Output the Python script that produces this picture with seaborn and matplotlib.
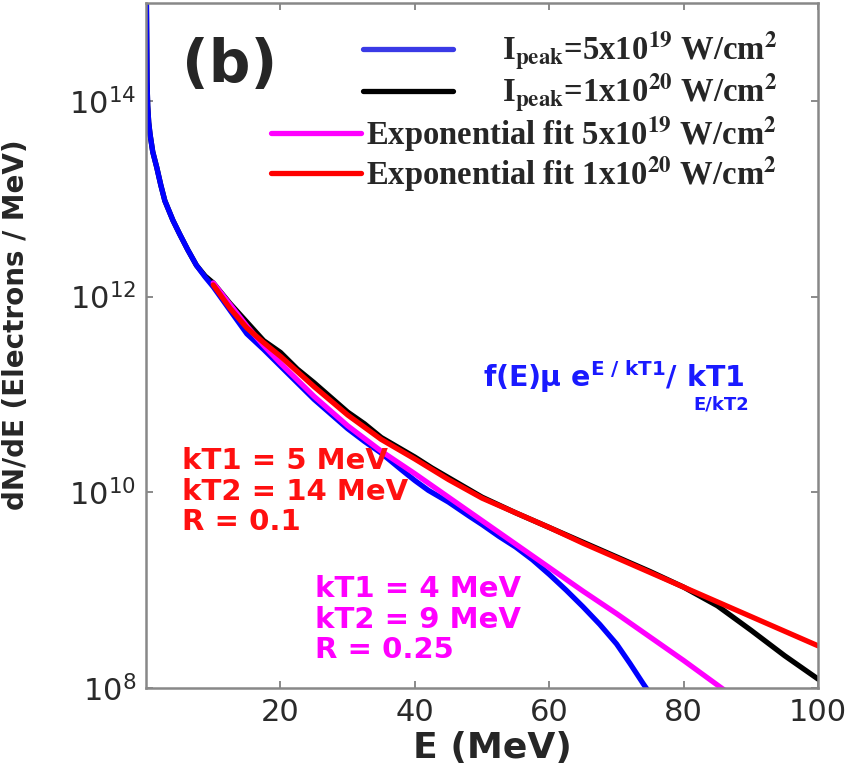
import numpy as np
import pandas as pd
import matplotlib
matplotlib.use("Agg")
import matplotlib.pyplot as plt
import seaborn as sns
from matplotlib.lines import Line2D
from matplotlib.font_manager import FontProperties


# ── Data (values are log10 of dN/dE) ───────────────────────────────────────────

blue_E = [0.05, 0.15, 0.25, 0.4, 0.6, 1.0, 1.6, 2.2, 2.8, 4.0, 5.0, 6.2, 7.5,
          8.8, 10, 12.5, 15, 17.5, 20, 22.5, 25, 27.5, 30, 32.5, 35, 38, 40,
          42, 45, 48, 50, 52.5, 55, 57.5, 60, 62.5, 65, 67.5, 70, 72, 74,
          74.6]
blue_log = [15.1, 14.2, 13.95, 13.78, 13.66, 13.48, 13.32, 13.14, 12.98, 12.78,
            12.64, 12.48, 12.32, 12.20, 12.10, 11.86, 11.62, 11.46, 11.29,
            11.12, 10.95, 10.80, 10.65, 10.52, 10.40, 10.23, 10.12, 10.02,
            9.90, 9.76, 9.67, 9.55, 9.44, 9.31, 9.16, 9.00, 8.83, 8.65, 8.45,
            8.25, 8.04, 7.98]

black_E = [0.05, 0.15, 0.25, 0.4, 0.6, 1.0, 1.6, 2.2, 2.8, 4.0, 5.0, 6.2, 7.5,
           8.8, 10, 12.5, 15, 17.5, 20, 22.5, 25, 27.5, 30, 32.5, 35, 37.5,
           40, 42.5, 45, 47.5, 50, 55, 60, 65, 70, 75, 80, 85, 90, 95, 100]
black_log = [15.1, 14.2, 13.95, 13.78, 13.66, 13.48, 13.32, 13.14, 12.98,
             12.78, 12.64, 12.48, 12.32, 12.21, 12.14, 11.93, 11.74, 11.55,
             11.43, 11.26, 11.12, 10.97, 10.82, 10.70, 10.56, 10.46, 10.36,
             10.25, 10.15, 10.05, 9.95, 9.79, 9.64, 9.49, 9.34, 9.19, 9.03,
             8.84, 8.59, 8.33, 8.09]

magenta_E = [10, 12.5, 15, 17.5, 20, 25, 30, 35, 40, 45, 50, 55, 60, 65, 70,
             75, 80, 85, 86]
magenta_log = [12.14, 11.92, 11.70, 11.50, 11.32, 10.98, 10.68, 10.42, 10.19,
               9.95, 9.71, 9.47, 9.23, 8.99, 8.76, 8.52, 8.28, 8.03, 7.98]

red_E = [10, 12.5, 15, 17.5, 20, 25, 30, 35, 40, 45, 50, 55, 60, 65, 70, 75,
         80, 85, 90, 95, 100]
red_log = [12.12, 11.88, 11.68, 11.53, 11.39, 11.08, 10.79, 10.54, 10.34,
           10.13, 9.94, 9.79, 9.64, 9.48, 9.33, 9.18, 9.03, 8.88, 8.73, 8.58,
           8.43]

legend_labels = [
    r"I$_{\mathbf{peak}}$=5x10$^{\mathbf{19}}$ W/cm$^{\mathbf{2}}$",
    r"I$_{\mathbf{peak}}$=1x10$^{\mathbf{20}}$ W/cm$^{\mathbf{2}}$",
    r"Exponential fit 5x10$^{\mathbf{19}}$ W/cm$^{\mathbf{2}}$",
    r"Exponential fit 1x10$^{\mathbf{20}}$ W/cm$^{\mathbf{2}}$",
]
x_ticks = [20, 40, 60, 80, 100]
y_ticks = [1e8, 1e10, 1e12, 1e14]


# ── Plot ───────────────────────────────────────────────────────────────────────

sns.set_style("ticks")
fig, ax = plt.subplots(figsize=(8.64, 7.80), dpi=100)
fig.subplots_adjust(left=0.169, right=0.947, bottom=0.118, top=0.996)

series = [
    ("black", black_E, black_log),
    ("#0000ff", blue_E, blue_log),
    ("#ff00ff", magenta_E, magenta_log),
    ("#ff0000", red_E, red_log),
]
for color, E, lg in series:
    df = pd.DataFrame({"E": E, "dNdE": 10.0 ** np.array(lg)})
    sns.lineplot(data=df, x="E", y="dNdE", color=color, linewidth=3.8,
                 ax=ax, sort=False, estimator=None)

ax.set_yscale("log")
ax.set_xlim(0, 100)
ax.set_ylim(1e8, 1e15)
ax.set_xticks(x_ticks)
ax.set_yticks(y_ticks)
ax.minorticks_off()
ax.tick_params(direction="in", length=5, width=1.2, color="#777777",
               top=True, right=True, labelsize=22, labelcolor="#2a2a2a",
               pad=7)
for sp in ax.spines.values():
    sp.set_color("#888888")
    sp.set_linewidth(1.8)

ax.set_xlabel("E (MeV)", fontsize=26, fontweight="bold")
ax.xaxis.set_label_coords(0.515, -0.063)
ax.set_ylabel("dN/dE (Electrons / MeV)", fontsize=20, fontweight="bold")
ax.yaxis.set_label_coords(-0.173, 0.53)

# legend: two blocks, MATLAB-like layout
leg_font = FontProperties(family="Liberation Serif", weight="bold", size=23.5,
                          math_fontfamily="stix")
h = [Line2D([], [], color=c, linewidth=3.8) for c in
     ["#3a3ae6", "black", "#ff00ff", "#ff0000"]]
leg1 = ax.legend(h[:2], legend_labels[:2], prop=leg_font, frameon=False,
                 loc="upper right", bbox_to_anchor=(0.939, 0.962),
                 borderpad=0, borderaxespad=0, handlelength=2.75,
                 handletextpad=1.5, labelspacing=0.0)
ax.add_artist(leg1)
ax.legend(h[2:], legend_labels[2:], prop=leg_font, frameon=False,
          loc="upper right", bbox_to_anchor=(0.939, 0.838),
          borderpad=0, borderaxespad=0, handlelength=2.75,
          handletextpad=0.18, labelspacing=0.0)

# annotations
ax.text(0.125, 0.909, "(b)", transform=ax.transAxes, fontsize=42,
        fontweight="bold", ha="center", va="center")
ax.text(0.053, 0.352, "kT1 = 5 MeV\nkT2 = 14 MeV\nR = 0.1",
        transform=ax.transAxes, fontsize=21, fontweight="bold",
        color="#ff1010", ha="left", va="top", linespacing=1.12)
ax.text(0.252, 0.165, "kT1 = 4 MeV\nkT2 = 9 MeV\nR = 0.25",
        transform=ax.transAxes, fontsize=21, fontweight="bold",
        color="#ff00ff", ha="left", va="top", linespacing=1.12)
ax.text(0.501, 0.455, r"f(E)µ e$^{\mathbf{E\ /\ kT1}}$/ kT1",
        transform=ax.transAxes, fontsize=20.5, fontweight="bold",
        color="#1a1aff", ha="left", va="center", math_fontfamily="dejavusans")
ax.text(0.814, 0.414, "E/kT2", transform=ax.transAxes, fontsize=13,
        fontweight="bold", color="#1a1aff", ha="left", va="center")

plt.savefig("out.png", dpi=100)
